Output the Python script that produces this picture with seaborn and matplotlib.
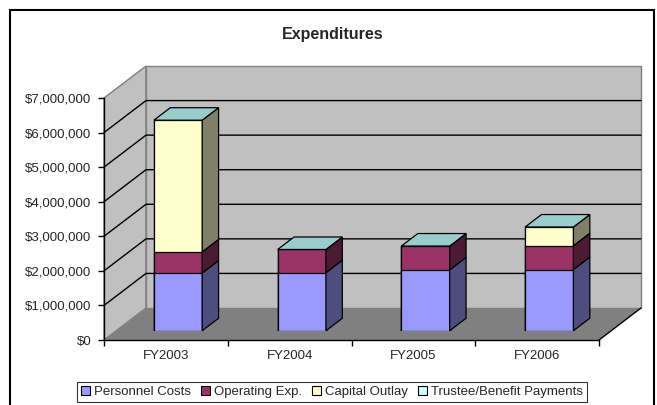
import numpy as np
import pandas as pd
import seaborn as sns
import matplotlib
matplotlib.use("Agg")
import matplotlib.pyplot as plt
from matplotlib.patches import Polygon, Rectangle, Patch
from matplotlib.ticker import FuncFormatter, FixedLocator

# ---- data ----
years = ["FY2003", "FY2004", "FY2005", "FY2006"]
series = ["Personnel Costs", "Operating Exp.", "Capital Outlay", "Trustee/Benefit Payments"]
personnel = [1670000, 1680000, 1760000, 1770000]
operating = [610000, 670000, 690000, 690000]
capital = [3810000, 0, 0, 540000]
trustee = [0, 0, 0, 0]
y_ticks = [0, 1000000, 2000000, 3000000, 4000000, 5000000, 6000000, 7000000]

front_colors = ["#9999FF", "#993366", "#FFFFCC", "#CCFFFF"]
side_colors = ["#4D4D80", "#4D1A33", "#80806A", "#668080"]
top_color = "#99CCCC"

sns.set_style("white")
plt.rcParams['font.family'] = ['Liberation Sans', 'DejaVu Sans']
FS = 9.5

W, H = 657, 405
fig = plt.figure(figsize=(W / 100, H / 100), dpi=100)

# front plane of the 3-D box (pixels)
left, right, bottom, top = 104, 599, 340, 98
depth_px = (42, 32)          # front plane -> back wall shift
bar_front = 0.29             # bar front face position in depth
bar_depth = 0.39
bar_width = 0.39

ymax = y_ticks[-1]
cat_px = (right - left) / len(years)
DX = depth_px[0] / cat_px
DY = depth_px[1] / ((bottom - top) / ymax)

ax = fig.add_axes([left / W, 1 - bottom / H, (right - left) / W, (bottom - top) / H])
ax.set_xlim(-0.5, len(years) - 0.5)
ax.set_ylim(0, ymax)
ax.patch.set_alpha(0)
x0, x1 = -0.5, len(years) - 0.5

# walls and floor
ax.add_patch(Polygon([(x0, 0), (x0, ymax), (x0 + DX, ymax + DY), (x0 + DX, DY)],
                     closed=True, facecolor="#C0C0C0", edgecolor="#808080", lw=1,
                     clip_on=False, zorder=0))
ax.add_patch(Rectangle((x0 + DX, DY), x1 - x0, ymax, facecolor="#C0C0C0",
                       edgecolor="#808080", lw=1, clip_on=False, zorder=0))
ax.add_patch(Polygon([(x0, 0), (x1, 0), (x1 + DX, DY), (x0 + DX, DY)],
                     closed=True, facecolor="#808080", edgecolor="none",
                     clip_on=False, zorder=0.5))
ax.plot([x1, x1 + DX], [0, DY], color="black", lw=1, clip_on=False, zorder=1)
for k in y_ticks[1:-1]:
    ax.plot([x0, x0 + DX, x1 + DX], [k, k + DY, k + DY], color="black", lw=1,
            clip_on=False, zorder=1)

for s in ["top", "right"]:
    ax.spines[s].set_visible(False)
for s in ["left", "bottom"]:
    ax.spines[s].set_color("black")
    ax.spines[s].set_linewidth(1)
    ax.spines[s].set_zorder(2)

ax.yaxis.set_major_locator(FixedLocator(y_ticks))
ax.yaxis.set_major_formatter(FuncFormatter(lambda v, p: f"${v:,.0f}"))
ax.xaxis.set_major_locator(FixedLocator(np.arange(len(years) + 1) - 0.5))
ax.xaxis.set_major_formatter(FuncFormatter(lambda v, p: ""))
ax.xaxis.set_minor_locator(FixedLocator(np.arange(len(years))))
ax.set_xticklabels(years, minor=True)
ax.tick_params(axis="y", which="major", left=True, length=4, width=1, pad=5,
               labelsize=FS, color="black")
ax.tick_params(axis="x", which="major", bottom=True, length=4, width=1, color="black")
ax.tick_params(axis="x", which="minor", bottom=True, length=0, pad=7, labelsize=FS)

# bars, on a plane shifted into the depth of the box
sx, sy = bar_front * depth_px[0], bar_front * depth_px[1]
axb = fig.add_axes([(left + sx) / W, 1 - (bottom - sy) / H,
                    (right - left) / W, (bottom - top) / H])

vals = np.array([personnel, operating, capital, trustee], dtype=float)
cum = np.cumsum(vals, axis=0)
df = pd.DataFrame({
    "year": np.tile(years, len(series)),
    "series": np.repeat(series, len(years)),
    "cum": cum.ravel(),
})
sns.barplot(data=df, x="year", y="cum", hue="series", hue_order=series[::-1],
            order=years, palette=dict(zip(series, front_colors)), dodge=False,
            width=bar_width, saturation=1, errorbar=None, legend=False,
            edgecolor="black", linewidth=0.9, ax=axb)
axb.set_xlim(-0.5, len(years) - 0.5)
axb.set_ylim(0, ymax)
axb.axis("off")

ddx, ddy = bar_depth * DX, bar_depth * DY
for i in range(len(years)):
    xl, xr = i - bar_width / 2, i + bar_width / 2
    base = 0.0
    for j in range(len(series)):
        h = vals[j, i]
        if h > 0:
            axb.add_patch(Polygon([(xr, base), (xr + ddx, base + ddy),
                                   (xr + ddx, base + h + ddy), (xr, base + h)],
                                  closed=True, facecolor=side_colors[j],
                                  edgecolor="black", lw=0.9, clip_on=False, zorder=3))
        base += h
    axb.add_patch(Polygon([(xl, base), (xr, base), (xr + ddx, base + ddy), (xl + ddx, base + ddy)],
                          closed=True, facecolor=top_color, edgecolor="black",
                          lw=0.9, clip_on=False, zorder=3))

fig.text(0.506, 1 - 35 / H, "Expenditures", ha="center", va="center",
         fontsize=11.5, fontweight="bold")

handles = [Patch(facecolor=c, edgecolor="black", lw=0.8) for c in front_colors]
leg = fig.legend(handles, series, loc="center", bbox_to_anchor=(332 / W, 1 - 392 / H),
                 ncol=4, fontsize=FS, frameon=True, fancybox=False, handlelength=0.7,
                 handleheight=0.7, handletextpad=0.3, columnspacing=0.75,
                 borderpad=0.3, borderaxespad=0)
leg.get_frame().set_edgecolor("black")
leg.get_frame().set_linewidth(0.8)

fig.add_artist(Rectangle((10 / W, -0.1), 644 / W, 1.1 - 10 / H, transform=fig.transFigure,
                         facecolor="none", edgecolor="black", lw=1.5))

fig.savefig("out.png", dpi=100)
